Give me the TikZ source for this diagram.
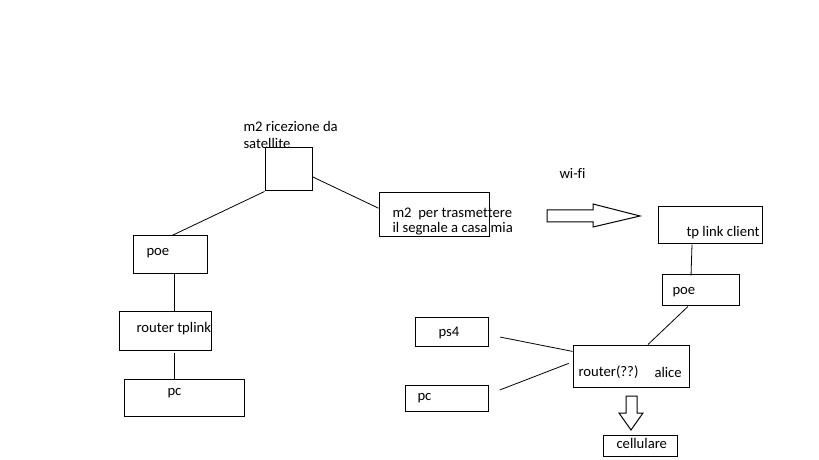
\documentclass[tikz,border=0pt]{standalone}
\usepackage{fontspec}
\setmainfont[Ligatures=NoCommon]{Carlito}
\usetikzlibrary{fit,calc}
\begin{document}
\begin{tikzpicture}[x=0.75pt,y=-0.75pt,line width=0.75pt,
  box/.style={draw,inner sep=0pt,line width=0.75pt},
  lbl/.style={anchor=base west,inner sep=0pt,font=\fontsize{11}{13}\selectfont},
  link/.style={draw,line width=0.6pt}]
\useasboundingbox (0,0) rectangle (819,460);
% boxes
\node[box,fit={(265,148)(312,191)}] (sat) {};
\node[box,fit={(379,193)(489,237)}] (m2) {};
\node[box,fit={(133,236)(207,273)}] (poeL) {};
\node[box,fit={(119,311)(211,350)}] (rtL) {};
\node[box,fit={(124,379)(244,416)}] (pcL) {};
\node[box,fit={(658,207)(762,244)}] (tp) {};
\node[box,fit={(662,274)(739,305)}] (poeR) {};
\node[box,fit={(415,317)(488,346)}] (ps4) {};
\node[box,fit={(405,385)(488,411)}] (pcR) {};
\node[box,fit={(573,345)(689,387)}] (rtR) {};
\node[box,fit={(603,435)(677,456)}] (cel) {};
% connectors
\draw[link] (sat.south west) -- ([xshift=1.5pt]poeL.north);
\draw[link] (sat.-17) -- (m2.173);
\draw[link] ([xshift=3pt]poeL.south) -- ([xshift=3pt]poeL.south |- rtL.north);
\draw[link] ([xshift=6.75pt,yshift=-1.5pt]rtL.south) -- ([xshift=6.75pt]rtL.south |- pcL.north);
\draw[link] ([xshift=-13.5pt]tp.south) -- ([xshift=-7.1pt,yshift=-1.5pt]poeR.north);
\draw[link] ([xshift=-9.4pt,yshift=-0.75pt]poeR.south) -- ([xshift=12.75pt]rtR.north);
\draw[link,shorten <=9pt] (ps4.-5) -- (rtR.166);
\draw[link,shorten <=9pt,shorten >=3pt] (pcR.5) -- (rtR.176);
% block arrows
\draw (547,210) -- (593,210) -- (593,204) -- (640,216) -- (593,227) -- (593,222) -- (547,222) -- cycle;
\draw (626,396) -- (637,396) -- (637,413) -- (643,413) -- (631,430) -- (619,413) -- (626,413) -- cycle;
% labels
\node[lbl] (t1) at (243,132) {m2 ricezione da};
\node[lbl] (t2) at (243,149) {satellite};
\node[lbl] (t3) at (392,218) {m2\ \ per trasmettere};
\node[lbl] (t4) at (392,233) {il segnale a casa mia};
\node[lbl] (t5) at (559,179) {wi-fi};
\node[lbl] (t6) at (686,237) {tp link client};
\node[lbl] (t7) at (672,294) {poe};
\node[lbl] (t8) at (146,255) {poe};
\node[lbl] (t9) at (136,332) {router tplink};
\node[lbl] (t10) at (167,395) {pc};
\node[lbl] (t11) at (438,336) {ps4};
\node[lbl] (t12) at (417,400) {pc};
\node[lbl] (t13) at (578,376) {router(??)};
\node[lbl] (t14) at (654,377) {alice};
\node[lbl] (t15) at (616,448) {cellulare};
\end{tikzpicture}
\end{document}
